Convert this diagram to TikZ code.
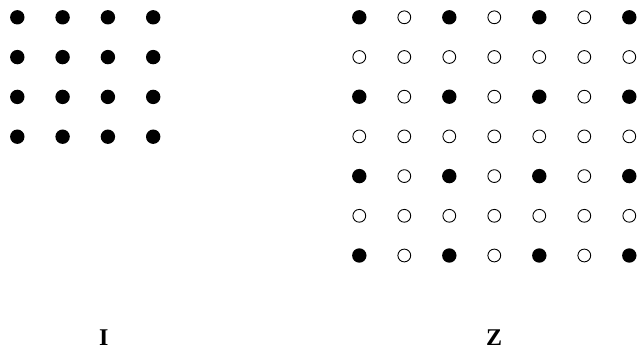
\documentclass[tikz,border=0pt]{standalone}
\usepackage{fontspec}
\setmainfont{Liberation Serif}
\begin{document}
\begin{tikzpicture}[x=1pt,y=-1pt,line join=round,line cap=round,font=\fontsize{24}{28}\selectfont\bfseries,line width=0.9pt]
	\useasboundingbox (0,0) rectangle (637,352);
	% lattice I
	\foreach \i in {0,...,3}\foreach \j in {0,...,3}\fill (17.3+45.3*\i,17.3+39.8*\j) circle(7.2);
	% lattice Z
	\foreach \i in {0,2,4,6}\foreach \j in {0,2,4,6}\fill (359.3+45*\i,17.3+39.7*\j) circle(7.2);
	\foreach \i in {1,3,5}\foreach \j in {0,2,4,6}\draw (359.3+45*\i,17.3+39.7*\j) circle(6.4);
	\foreach \i in {0,...,6}\foreach \j in {1,3,5}\draw (359.3+45*\i,17.3+39.7*\j) circle(6.4);
	\node[inner sep=0pt] (lblI) at (103.7,337.5) {I};
	\node[inner sep=0pt] (lblZ) at (494,337.5) {Z};
\end{tikzpicture}
\end{document}
